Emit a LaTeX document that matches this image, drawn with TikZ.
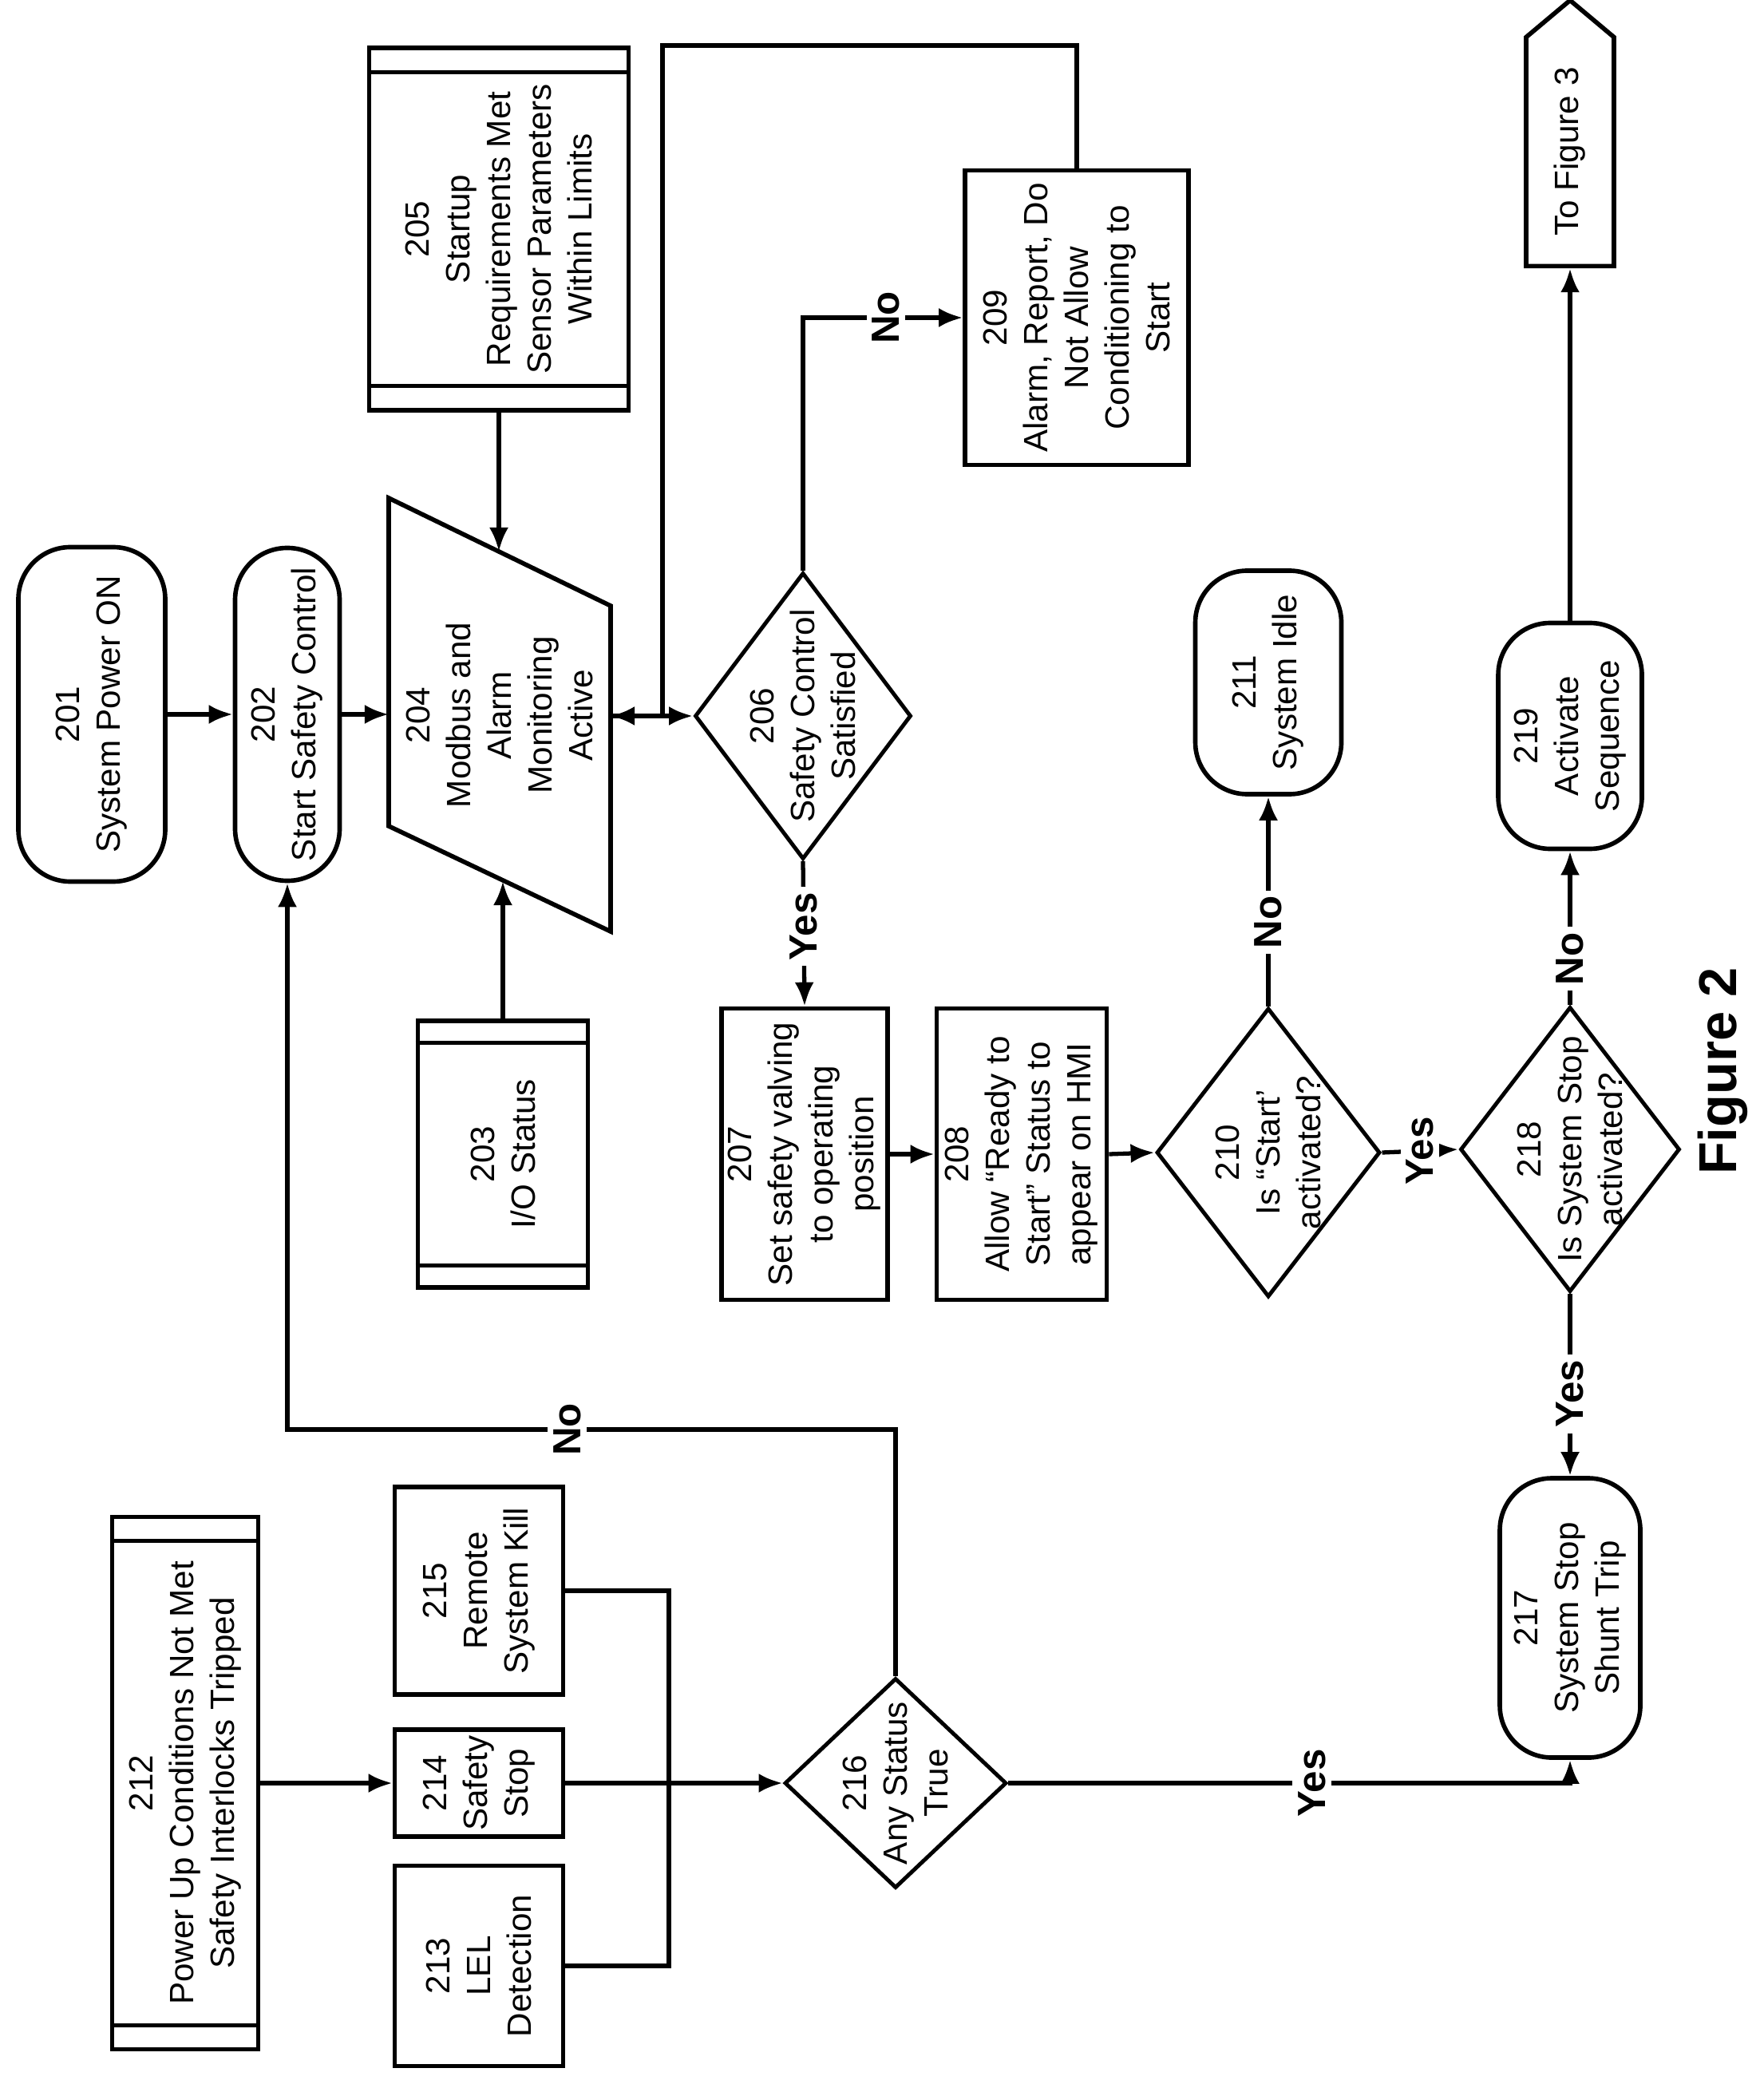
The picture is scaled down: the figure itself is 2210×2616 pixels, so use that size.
\documentclass[tikz,border=0pt]{standalone}
\usepackage{fontspec}
\setmainfont{Liberation Sans}
\usetikzlibrary{shapes.geometric,shapes.symbols,arrows.meta}

\begin{document}
\begin{tikzpicture}[x=0.01cm,y=-0.01cm,
		font=\fontsize{12}{14.5}\selectfont,
		sz/.style 2 args={minimum width=#1*0.01cm, minimum height=#2*0.01cm},
		box/.style={draw, rectangle, line width=1.6pt, rotate=90, align=center, inner sep=2pt},
		term/.style={box, rounded corners=0.65cm},
		dec/.style={draw, diamond, line width=1.4pt, rotate=90, inner sep=0pt},
		txt/.style={rotate=90, align=center, inner sep=1pt},
		connect/.style={-{Latex[length=0.3cm,width=0.24cm]}, line width=1.5pt},
		lbl/.style={rotate=90, fill=white, inner sep=2pt, font=\fontsize{14}{16}\selectfont\bfseries}]
	\useasboundingbox (0,0) rectangle (2210,2616);

	% upper column
	\node[term, sz={419}{184}] (s201) at (115,895) {201\\System Power ON};
	\node[term, sz={417}{131}] (s202) at (360,895) {202\\Start Safety Control};
	\node[box, sz={454}{325}] (s205) at (625,287) {205\\Startup\\Requirements Met\\Sensor Parameters\\Within Limits};
	\node[box, sz={334}{213}] (s203) at (630,1446) {203\\I/O Status};
	\node[txt] (s204) at (626,896) {204\\Modbus and\\Alarm\\Monitoring\\Active};
	\coordinate (c204a) at (487,624);
	\coordinate (c204b) at (765,759);
	\coordinate (c204c) at (765,1167);
	\coordinate (c204d) at (487,1035);
	\draw[line width=1.6pt] (c204a) -- (c204b) -- (c204c) -- (c204d) -- cycle;
	\coordinate (in204l) at (487,895);
	\coordinate (in204t) at (625,691);
	\coordinate (in204b) at (630,1104);
	\coordinate (in204r) at (765,897);

	\node[dec, sz={359}{271}] (s206) at (1006,897) {};
	\node[txt] at (s206) {206\\Safety Control\\Satisfied};
	\node[box, sz={369}{280}] (s209) at (1349,398) {209\\Alarm, Report, Do\\Not Allow\\Conditioning to\\Start};
	\coordinate (cfb) at (830,57);

	% middle row
	\node[box, sz={365}{208}] (s207) at (1008,1446) {207\\Set safety valving\\to operating\\position};
	\node[box, sz={365}{213}] (s208) at (1280,1446) {208\\Allow ``Ready to\\Start'' Status to\\appear on HMI};
	\node[dec, sz={362}{280}] (s210) at (1589,1444) {};
	\node[txt] at (s210) {210\\Is ``Start'\\activated?};
	\node[term, sz={280}{183}] (s211) at (1589,855) {211\\System Idle};
	\node[dec, sz={357}{275}] (s218) at (1967,1440) {};
	\node[txt] at (s218) {218\\Is System Stop\\activated?};
	\node[term, sz={283}{180}] (s219) at (1967,922) {219\\Activate\\Sequence};
	\node[draw, signal, signal to=east, signal pointer angle=100, line width=1.6pt, rotate=90,
		sz={333}{110}, inner sep=2pt] (s220) at (1967,190) {To Figure 3};
	\node[term, sz={350}{176}] (s217) at (1967,2027) {217\\System Stop\\Shunt Trip};

	% lower row
	\node[box, sz={667}{183}] (s212) at (232,2234) {212\\Power Up Conditions Not Met\\Safety Interlocks Tripped};
	\node[box, sz={260}{211}] (s215) at (600,1993) {215\\Remote\\System Kill};
	\node[box, sz={129}{211}] (s214) at (600,2234) {214\\Safety\\Stop};
	\node[box, sz={251}{211}] (s213) at (600,2463) {213\\LEL\\Detection};
	\node[dec, sz={263}{278}] (s216) at (1122,2234) {};
	\node[txt] at (s216) {216\\Any Status\\True};
	\coordinate (cm) at (838,2234);
	\coordinate (cno) at (360,1791);

	\node[rotate=90, font=\fontsize{19}{21}\selectfont\bfseries] (fig) at (2158,1342) {Figure 2};

	% inner bars of the process boxes
	\foreach \n/\d in {s205/0.33cm, s203/0.3cm, s212/0.33cm}{
		\draw[line width=1.4pt] ([yshift=-\d]\n.north east) -- ([yshift=-\d]\n.south east);
		\draw[line width=1.4pt] ([yshift=\d]\n.north west) -- ([yshift=\d]\n.south west);
	}

	% connectors
	\draw[connect] (s201.south) -- (s202.north);
	\draw[connect] (s202.south) -- (in204l);
	\draw[connect] (s205.west) -- (in204t);
	\draw[connect] (s203.east) -- (in204b);
	\draw[connect] (in204r) -- (s206.north);
	\draw[connect] (s206.east) |- node[lbl, pos=0.76] {No} (s209.north);
	\draw[connect] (s209.east) |- (cfb) |- (in204r);
	\draw[connect] (s206.west) -- node[lbl, pos=0.45] {Yes} (s207.east);
	\draw[connect] (s207.south) -- (s208.north);
	\draw[connect] (s208.south) -- (s210.north);
	\draw[connect] (s210.east) -- node[lbl, pos=0.4] {No} (s211.west);
	\draw[connect] (s210.south) -- node[lbl] {Yes} (s218.north);
	\draw[connect] (s218.east) -- node[lbl, pos=0.3] {No} (s219.west);
	\draw[connect] (s219.east) -- (s220.west);
	\draw[connect] (s218.west) -- node[lbl, pos=0.55] {Yes} (s217.east);
	\draw[connect] (s212.south) -- (s214.north);
	\draw[line width=1.5pt] (s215.south) -| (cm);
	\draw[line width=1.5pt] (s213.south) -| (cm);
	\draw[connect] (s214.south) -- (s216.north);
	\draw[connect] (s216.south) -| node[lbl, pos=0.27] {Yes} (s217.west);
	\draw[connect] (s216.east) |- node[lbl, pos=0.77] {No} (cno) -- (s202.west);
\end{tikzpicture}
\end{document}
